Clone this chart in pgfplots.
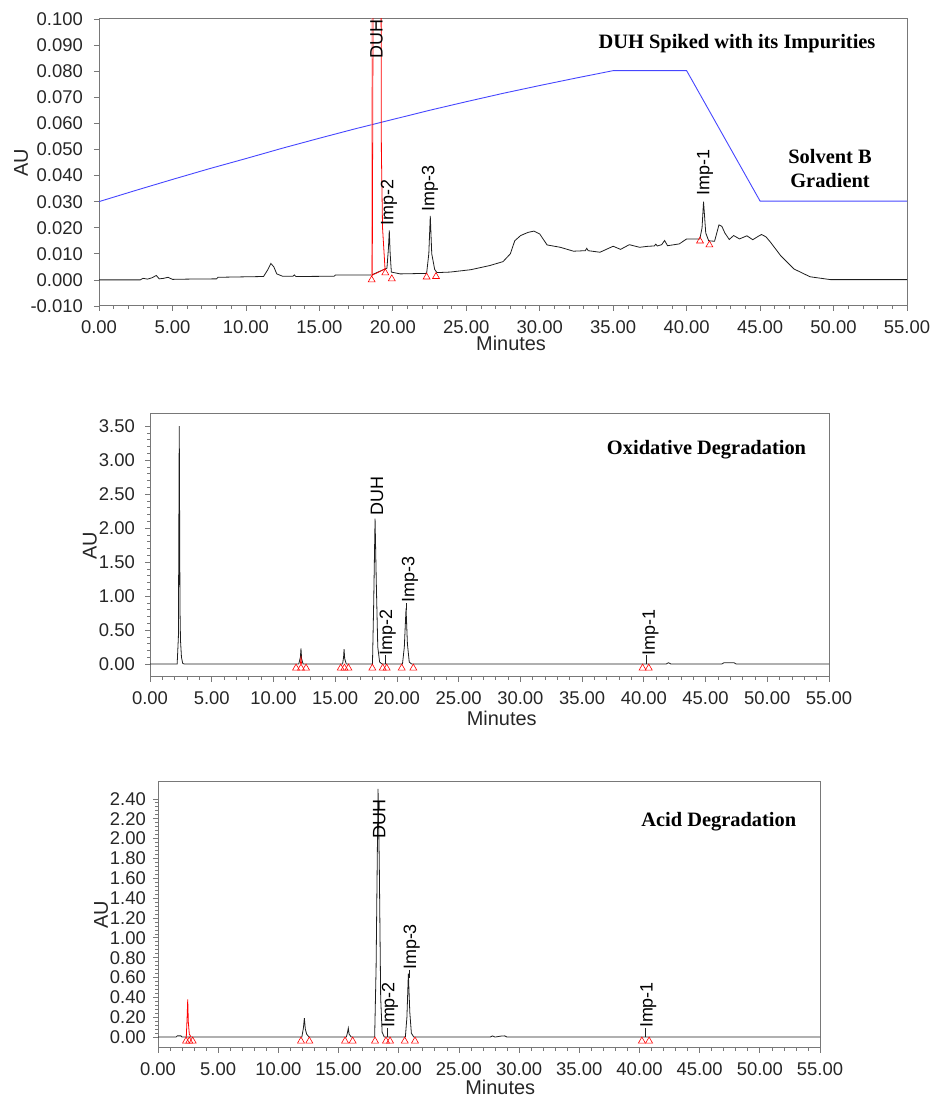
\documentclass[border=0pt]{standalone}
\usepackage{pgfplots}
\pgfplotsset{compat=1.18}
\usepackage{fontspec}
\setmainfont{Liberation Sans}
\newfontfamily\serifb{Liberation Serif}
\definecolor{axgray}{RGB}{120,120,120}
\definecolor{gradblue}{RGB}{70,70,255}
\definecolor{trace}{RGB}{30,30,30}
\pgfplotsset{
  chrom/.style={
    scale only axis, anchor=south west,
    xmin=0, xmax=55, xtick={0,5,...,55},
    minor x tick num=4, minor y tick num=4,
    tick align=outside, tick pos=left,
    major tick length=5bp, minor tick length=3bp,
    axis line style={axgray, line width=1bp},
    every tick/.style={axgray, line width=0.7bp},
    scaled ticks=false,
    /pgf/number format/assume math mode=true,
    tick label style={font=\fontsize{18.5}{20}\selectfont, inner sep=0pt, text=black!85},
    xticklabel style={/pgf/number format/fixed, /pgf/number format/fixed zerofill, /pgf/number format/precision=2},
    xticklabel style={anchor=north, yshift=-9bp},
    yticklabel style={anchor=east, xshift=-10bp},
    label style={font=\fontsize{20}{22}\selectfont, inner sep=0pt, text=black!85},
    xlabel={Minutes}, ylabel={AU},
    clip=true,
  },
  trc/.style={trace, line width=0.8bp},
  tri/.style={only marks, mark=triangle, mark size=4bp, red, mark options={line width=0.6bp, red}},
}
\newcommand{\pk}{\fontsize{18}{20}\selectfont}
\newcommand{\ttl}{\serifb\bfseries\fontsize{20.5}{25}\selectfont}
\begin{document}
\begin{tikzpicture}
\useasboundingbox (0,0) rectangle (932bp,1097bp);

% ---------------- Panel 1 ----------------
\begin{axis}[chrom, at={(99bp,791bp)}, width=808bp, height=287bp,
  ymin=-0.010, ymax=0.100, ytick={-0.010,0,0.010,...,0.100},
  yticklabel style={/pgf/number format/fixed, /pgf/number format/fixed zerofill, /pgf/number format/precision=3},
  yticklabel style={xshift=-1bp},
  xlabel style={at={(axis description cs:0.51,-0.1045)}, anchor=north},
  ylabel style={at={(axis description cs:-0.0875,0.5)}, anchor=south},
]
\addplot[gradblue, line width=0.9bp] coordinates {
(0,0.0300) (2.5,0.0343) (5,0.0385) (7.5,0.0426) (10,0.0465) (12.5,0.0505) (15,0.0543)
(17.5,0.0580) (20,0.0615) (22.5,0.0650) (25,0.0683) (27.5,0.0715) (30,0.0745)
(32.5,0.0774) (35,0.0802) (40,0.0802) (45,0.0302) (55,0.0302)};
\addplot[trc] coordinates {
(0,0) (2.8,0) (3.0,0.0006) (3.3,0.0003) (3.6,0.0008) (3.9,0.0017) (4.1,0.0004)
(4.4,0.0006) (4.7,0.0010) (5.0,0.0002) (6.0,0.0003) (8.0,0.0004) (8.1,0.0010)
(11.2,0.0013) (11.5,0.0040) (11.7,0.0063) (11.9,0.0050) (12.1,0.0023) (12.5,0.0014)
(13.2,0.0014) (13.3,0.0019) (13.4,0.0013) (16.0,0.0014) (16.1,0.0019) (18.5,0.0019)
(18.6,0.0020) (19.47,0.0042) (19.6,0.0045) (19.7,0.012) (19.76,0.019) (19.82,0.010)
(19.9,0.003) (20.5,0.0023) (22.3,0.0025) (22.45,0.010) (22.55,0.0245) (22.65,0.010)
(22.85,0.004) (23.0,0.0028) (23.9,0.0030) (25.3,0.0039) (26.6,0.0055) (27.5,0.0070)
(28.0,0.0100) (28.3,0.0150) (28.7,0.0170) (29.2,0.0182) (29.6,0.0187) (30.0,0.0176)
(30.5,0.0134) (31.4,0.0125) (32.3,0.0110) (33.1,0.0112) (33.2,0.0121) (33.3,0.0112)
(34.1,0.0106) (35.0,0.0129) (35.5,0.0117) (36.1,0.0135) (36.8,0.0125) (37.4,0.0129)
(37.8,0.0130) (37.9,0.0137) (38.0,0.0130) (38.3,0.0135) (38.5,0.0151) (38.7,0.0131)
(39.5,0.0138) (40.0,0.0157) (40.9,0.0157) (41.05,0.020) (41.15,0.030) (41.3,0.018)
(41.5,0.0150) (41.9,0.0148) (42.2,0.0211) (42.4,0.0205) (42.6,0.0180) (42.9,0.0155)
(43.2,0.0170) (43.6,0.0157) (44.1,0.0169) (44.5,0.0154) (44.9,0.0168) (45.1,0.0174)
(45.4,0.0165) (45.7,0.0145) (46.4,0.0093) (47.3,0.0042) (48.4,0.0012) (49.8,0.0001)
(55,0.0001)};
\addplot[red, line width=0.8bp] coordinates {
(18.6,0.0015) (18.66,0.115) (19.2,0.115) (19.22,0.05) (19.3,0.02) (19.47,0.0042)};
\addplot[red!45, line width=0.6bp] coordinates {(18.55,0.0015) (18.58,0.115)};
\addplot[red, line width=0.7bp] coordinates {(18.6,0.0018) (19.47,0.0042)};
\addplot[tri] coordinates {
(18.56,0.0000) (19.49,0.0027) (19.93,0.0004) (22.3,0.0011) (22.94,0.0013)
(40.91,0.0149) (41.55,0.0134)};
\node[rotate=90, anchor=west, inner sep=0pt, font=\pk] at (axis cs:18.9,0.0847) {DUH};
\node[rotate=90, anchor=west, inner sep=0pt, font=\pk] at (axis cs:19.74,0.0207) {Imp-2};
\node[rotate=90, anchor=west, inner sep=0pt, font=\pk] at (axis cs:22.53,0.0260) {Imp-3};
\node[rotate=90, anchor=west, inner sep=0pt, font=\pk] at (axis cs:41.25,0.0322) {Imp-1};
\node[font=\ttl] at (axis cs:43.43,0.0905) {DUH Spiked with its Impurities};
\node[font=\ttl, align=center] at (axis cs:49.76,0.0427) {Solvent B\\Gradient};
\end{axis}

% ---------------- Panel 2 ----------------
\begin{axis}[chrom, at={(150bp,420bp)}, width=679bp, height=263bp,
  ymin=-0.19, ymax=3.68, ytick={0,0.5,...,3.5},
  yticklabel style={/pgf/number format/fixed, /pgf/number format/fixed zerofill, /pgf/number format/precision=2},
  xlabel style={at={(axis description cs:0.518,-0.129)}, anchor=north},
  ylabel style={at={(axis description cs:-0.078,0.5)}, anchor=south},
]
\addplot[trc] coordinates {
(0,0) (2.2,0) (2.3,0.4) (2.37,3.50) (2.43,0.8) (2.47,0.35) (2.55,0.1) (2.65,0.01)
(2.8,0) (12.05,0) (12.18,0.10) (12.23,0.23) (12.28,0.08) (12.4,0) (15.6,0)
(15.68,0.10) (15.72,0.22) (15.77,0.08) (15.9,0) (18.02,0) (18.12,0.9) (18.23,2.14)
(18.33,1.2) (18.45,0.25) (18.6,0.03) (18.8,0) (20.45,0) (20.6,0.25) (20.74,0.82)
(20.85,0.3) (21.0,0.03) (21.2,0) (41.8,0) (42.0,0.02) (42.2,0) (46.3,0) (46.5,0.02)
(47.3,0.02) (47.5,0) (55,0)};
\addplot[red, line width=0.6bp] coordinates {(12.18,0) (12.23,0.12) (12.28,0)};
\addplot[tri] coordinates {
(11.83,-0.059) (12.23,-0.059) (12.64,-0.059) (15.45,-0.059) (15.75,-0.059) (16.07,-0.059)
(18.01,-0.059) (18.85,-0.059) (19.17,-0.059) (20.39,-0.059) (21.33,-0.059)
(39.9,-0.059) (40.4,-0.059)};
\draw[trace, line width=0.6bp] (axis cs:19.05,0) -- (axis cs:19.05,0.13);
\draw[trace, line width=0.6bp] (axis cs:40.2,0) -- (axis cs:40.2,0.13);
\draw[trace, line width=0.6bp] (axis cs:20.8,0.8) -- (axis cs:20.8,0.9);
\node[rotate=90, anchor=west, inner sep=0pt, font=\pk] at (axis cs:18.4,2.19) {DUH};
\node[rotate=90, anchor=west, inner sep=0pt, font=\pk] at (axis cs:19.25,0.13) {Imp-2};
\node[rotate=90, anchor=west, inner sep=0pt, font=\pk] at (axis cs:21.06,0.90) {Imp-3};
\node[rotate=90, anchor=west, inner sep=0pt, font=\pk] at (axis cs:40.54,0.13) {Imp-1};
\node[font=\ttl] at (axis cs:45.08,3.16) {Oxidative Degradation};
\end{axis}

% ---------------- Panel 3 ----------------
\begin{axis}[chrom, at={(158bp,49bp)}, width=662bp, height=266bp,
  ymin=-0.11, ymax=2.57, ytick={0,0.2,...,2.41},
  yticklabel style={/pgf/number format/fixed, /pgf/number format/fixed zerofill, /pgf/number format/precision=2},
  yticklabel style={xshift=3bp},
  xlabel style={at={(axis description cs:0.517,-0.121)}, anchor=north},
  ylabel style={at={(axis description cs:-0.075,0.5)}, anchor=south},
]
\addplot[trc] coordinates {
(0,0) (1.5,0) (1.6,0.012) (1.9,0.012) (2.0,0) (11.95,0) (12.08,0.09) (12.16,0.19)
(12.24,0.08) (12.35,0.03) (12.55,0) (15.65,0) (15.75,0.05) (15.81,0.09) (15.88,0.03)
(16.05,0) (18.0,0) (18.12,0.7) (18.28,2.50) (18.38,1.8) (18.5,0.4) (18.62,0.05)
(18.8,0) (20.55,0) (20.68,0.2) (20.8,0.64) (20.92,0.25) (21.05,0.04) (21.25,0)
(27.6,0) (27.8,0.012) (28.0,0) (28.5,0.01) (28.8,0.012) (29.0,0) (55,0)};
\addplot[red, line width=0.8bp] coordinates {
(2.35,0) (2.42,0.2) (2.47,0.38) (2.52,0.15) (2.6,0.03) (2.75,0)};
\addplot[tri] coordinates {
(2.33,-0.04) (2.6,-0.04) (2.88,-0.04) (11.88,-0.04) (12.57,-0.04)
(15.54,-0.04) (16.17,-0.04) (18.03,-0.04) (18.94,-0.04) (19.28,-0.04)
(20.5,-0.04) (21.35,-0.04) (40.2,-0.04) (40.8,-0.04)};
\draw[trace, line width=0.6bp] (axis cs:19.08,0) -- (axis cs:19.08,0.09);
\draw[trace, line width=0.6bp] (axis cs:40.5,0) -- (axis cs:40.5,0.09);
\draw[trace, line width=0.6bp] (axis cs:20.85,0.6) -- (axis cs:20.85,0.675);
\node[rotate=90, anchor=west, inner sep=0pt, font=\pk] at (axis cs:18.39,2.0) {DUH};
\node[rotate=90, anchor=west, inner sep=0pt, font=\pk] at (axis cs:19.27,0.09) {Imp-2};
\node[rotate=90, anchor=west, inner sep=0pt, font=\pk] at (axis cs:21.08,0.675) {Imp-3};
\node[rotate=90, anchor=west, inner sep=0pt, font=\pk] at (axis cs:40.74,0.09) {Imp-1};
\node[font=\ttl] at (axis cs:46.59,2.17) {Acid Degradation};
\end{axis}
\end{tikzpicture}
\end{document}
